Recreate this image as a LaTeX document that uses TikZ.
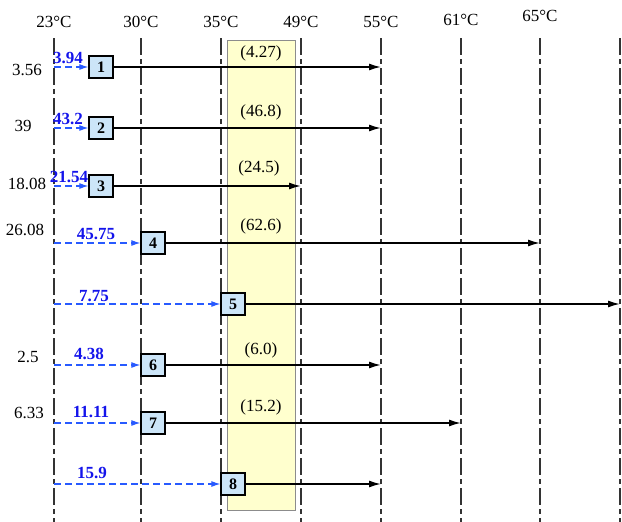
\documentclass[tikz,border=0pt]{standalone}
\usepackage{fontspec}
\setmainfont{Liberation Serif}
\usetikzlibrary{arrows.meta}
\definecolor{boxblue}{RGB}{204,229,248}
\definecolor{bandyellow}{RGB}{255,255,206}
\definecolor{lblblue}{RGB}{20,20,235}
\definecolor{arrblue}{RGB}{40,90,255}
\begin{document}
\begin{tikzpicture}[x=1pt,y=-1pt,
  vline/.style={line width=1.2pt, draw=black!80, dash pattern=on 17pt off 4pt on 5pt off 4pt},
  numbox/.style={draw=black, line width=1.3pt, fill=boxblue, minimum width=24pt, minimum height=22pt, inner sep=0pt, font=\fontsize{16}{16}\selectfont\bfseries},
  templbl/.style={font=\fontsize{17}{17}\selectfont, inner sep=0pt},
  sidelbl/.style={font=\fontsize{17}{17}\selectfont, inner sep=0pt},
  bluelbl/.style={font=\fontsize{17}{17}\selectfont\bfseries, text=lblblue, inner sep=0pt},
  parlbl/.style={font=\fontsize{17}{17}\selectfont, inner sep=0pt},
  inarrow/.style={draw=arrblue, line width=1.1pt, dash pattern=on 7pt off 4pt, -{Latex[length=9pt,width=6pt]}},
  outarrow/.style={draw=black, line width=1.5pt, -{Latex[length=12pt,width=7pt]}}
]
\useasboundingbox (0,0) rectangle (622,522);
% yellow band
\draw[fill=bandyellow, draw=black!45, line width=0.8pt] (227,40) rectangle (295,510);
% vertical lines
\foreach \n/\x in {a/54,b/141,c/221,d/301,e/381,f/461,g/540,h/620}{
  \coordinate (top\n) at (\x,38);
  \coordinate (bot\n) at (\x,522);
  \draw[vline] (top\n) -- (bot\n);
}
% temperature labels
\node[templbl] (t23) at (54,22) {23°C};
\node[templbl] (t30) at (141,22) {30°C};
\node[templbl] (t35) at (221,22) {35°C};
\node[templbl] (t49) at (301,22) {49°C};
\node[templbl] (t55) at (381,22) {55°C};
\node[templbl] (t61) at (461,20) {61°C};
\node[templbl] (t65) at (540,16) {65°C};
% boxes
\node[numbox] (b1) at (101,67) {1};
\node[numbox] (b2) at (101,128) {2};
\node[numbox] (b3) at (101,186) {3};
\node[numbox] (b4) at (153,243) {4};
\node[numbox] (b5) at (233,304) {5};
\node[numbox] (b6) at (153,365) {6};
\node[numbox] (b7) at (153,423) {7};
\node[numbox] (b8) at (233,484) {8};
% start and end coordinates
\foreach \i/\y/\xe in {1/67/381,2/128/381,3/186/301,4/243/540,5/304/620,6/365/381,7/423/461,8/484/381}{
  \coordinate (s\i) at (54,\y);
  \coordinate (e\i) at (\xe,\y);
  \draw[inarrow] (s\i) -- (b\i.west);
  \draw[outarrow] (b\i.east) -- (e\i);
}
% blue labels
\node[bluelbl] (l1) at (68,58) {3.94};
\node[bluelbl] (l2) at (68,119) {43.2};
\node[bluelbl] (l3) at (69,177) {21.54};
\node[bluelbl] (l4) at (96,234) {45.75};
\node[bluelbl] (l5) at (94,296) {7.75};
\node[bluelbl] (l6) at (89,354) {4.38};
\node[bluelbl] (l7) at (91,412) {11.11};
\node[bluelbl] (l8) at (92,473) {15.9};
% side labels
\node[sidelbl] (m1) at (27,70) {3.56};
\node[sidelbl] (m2) at (23,126) {39};
\node[sidelbl] (m3) at (27,184) {18.08};
\node[sidelbl] (m4) at (25,230) {26.08};
\node[sidelbl] (m6) at (28,357) {2.5};
\node[sidelbl] (m7) at (29,413) {6.33};
% band labels
\node[parlbl] (p1) at (261,53) {(4.27)};
\node[parlbl] (p2) at (261,112) {(46.8)};
\node[parlbl] (p3) at (259,168) {(24.5)};
\node[parlbl] (p4) at (261,226) {(62.6)};
\node[parlbl] (p6) at (261,350) {(6.0)};
\node[parlbl] (p7) at (261,407) {(15.2)};
\end{tikzpicture}
\end{document}
